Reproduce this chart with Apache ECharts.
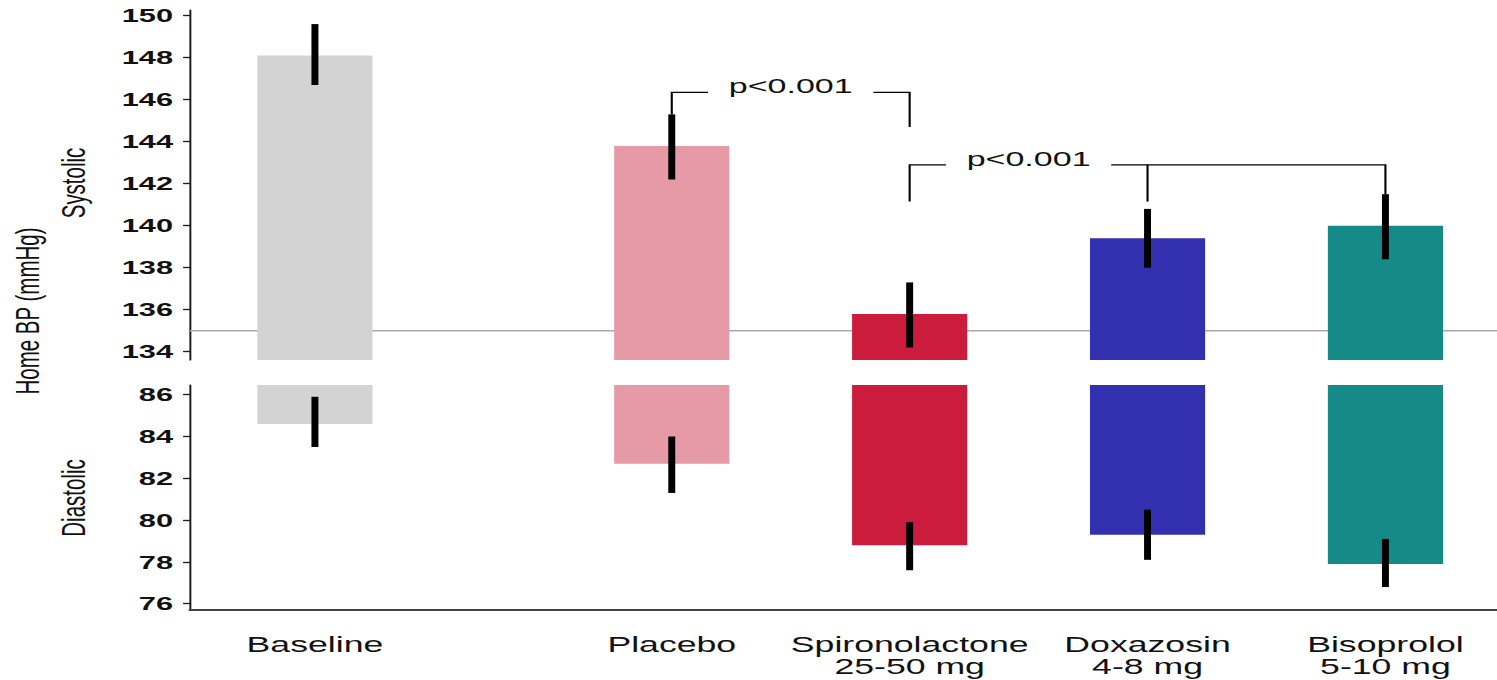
<!DOCTYPE html>
<html>
<head>
<meta charset="utf-8">
<script src="https://cdn.jsdelivr.net/npm/echarts@6/dist/echarts.min.js"></script>
<style>
  html, body { margin: 0; padding: 0; background: #fff; overflow: hidden; }
  #wrap { width: 1497px; height: 680px; overflow: hidden; }
  /* drawn narrow, then widened to the page width */
  #chart { width: 924px; height: 680px; transform: scaleX(1.62013); transform-origin: 0 0; }
</style>
</head>
<body>
<div id="wrap"><div id="chart"></div></div>
<script>
// Home blood pressure by treatment period: mean with 95% interval
const groups = ['Baseline', 'Placebo', 'Spironolactone\n25-50 mg', 'Doxazosin\n4-8 mg', 'Bisoprolol\n5-10 mg'];
const groupColors = ['#d3d3d3', '#e59aa6', '#cc1c3d', '#3330b0', '#158a86'];

const systolicMean = [148.1, 143.8, 135.8, 139.4, 140.0];
const systolicLow  = [146.7, 142.2, 134.2, 138.0, 138.4];
const systolicHigh = [149.6, 145.3, 137.3, 140.8, 141.5];

const diastolicMean = [84.6, 82.7, 78.8, 79.3, 77.9];
const diastolicLow  = [83.5, 81.3, 77.6, 78.1, 76.8];
const diastolicHigh = [85.9, 84.0, 79.9, 80.5, 79.1];

const systolicTicks  = [134, 136, 138, 140, 142, 144, 146, 148, 150];
const diastolicTicks = [76, 78, 80, 82, 84, 86];
const systolicTarget = 135;

// significance brackets: joined groups, bracket height, lower end of each leg
const bracketGroups = [[1, 2], [2, 3, 4]];
const bracketLevels = [146.35, 142.9];
const bracketLegEnds = [[145.3, 144.7], [141.15, 141.15, 141.5]];
const bracketLabels = ['p<0.001', 'p<0.001'];

// axis extents (a little padding beyond the outer ticks)
const SYS_MIN = 133.605, SYS_MAX = 150.271;
const DIA_MIN = 75.699, DIA_MAX = 86.464;
const X_MIN = -0.525, X_MAX = 4.969;
const BAR_HALF = 0.242;

// baseline sits a bit apart from the treatment periods
const slotOf = i => (i === 0 ? 0 : i + 0.5);
const slots = groups.map((g, i) => slotOf(i));

const FONT = '"Liberation Sans", Arial, Helvetica, sans-serif';

function rows(mean, low, high) {
  return groups.map((g, i) => [slotOf(i), mean[i], low[i], high[i]]);
}

function barRenderer(baseValue) {
  return function (params, api) {
    const slot = api.value(0);
    const mean = api.value(1);
    const lo = api.value(2);
    const hi = api.value(3);
    const pMean = api.coord([slot, mean]);
    const pBase = api.coord([slot, baseValue]);
    const xl = api.coord([slot - BAR_HALF, mean])[0];
    const xr = api.coord([slot + BAR_HALF, mean])[0];
    const yLo = api.coord([slot, lo])[1];
    const yHi = api.coord([slot, hi])[1];
    return {
      type: 'group',
      children: [
        {
          type: 'rect',
          shape: { x: xl, y: Math.min(pBase[1], pMean[1]), width: xr - xl, height: Math.abs(pBase[1] - pMean[1]) },
          style: { fill: groupColors[params.dataIndex] }
        },
        {
          type: 'line',
          shape: { x1: pMean[0], y1: yLo, x2: pMean[0], y2: yHi },
          style: { stroke: '#000', lineWidth: 4.3, lineCap: 'butt' }
        }
      ]
    };
  };
}

function targetRenderer(params, api) {
  const cs = params.coordSys;
  const y = api.coord([0, api.value(0)])[1];
  return {
    type: 'line',
    shape: { x1: cs.x, y1: y, x2: cs.x + cs.width, y2: y },
    style: { stroke: '#a9a9a9', lineWidth: 1.6 }
  };
}

const GAP_HALF = 51;
function bracketRenderer(params, api) {
  const k = api.value(0);
  const legs = bracketGroups[k];
  const ends = bracketLegEnds[k];
  const yL = api.coord([0, bracketLevels[k]])[1];
  const xs = legs.map(g => api.coord([slotOf(g), bracketLevels[k]])[0]);
  const yEnd = ends.map(v => api.coord([0, v])[1]);
  const xm = (xs[0] + xs[1]) / 2;
  const last = xs.length - 1;
  const lineStyle = { stroke: '#000', lineWidth: 1.3, fill: null };
  const children = [
    { type: 'polyline', shape: { points: [[xs[0], yEnd[0]], [xs[0], yL], [xm - GAP_HALF, yL]] }, style: lineStyle },
    { type: 'polyline', shape: { points: [[xm + GAP_HALF, yL], [xs[last], yL], [xs[last], yEnd[last]]] }, style: lineStyle },
    {
      type: 'text', x: xm, y: yL - 6.3,
      style: {
        text: bracketLabels[k], fill: '#111', font: '21px ' + FONT,
        align: 'center', verticalAlign: 'middle', textAlign: 'center', textVerticalAlign: 'middle'
      }
    }
  ];
  for (let j = 1; j < last; j++) {
    children.push({ type: 'line', shape: { x1: xs[j], y1: yL, x2: xs[j], y2: yEnd[j] }, style: lineStyle });
  }
  return { type: 'group', children };
}

const yAxisCommon = {
  type: 'value',
  splitLine: { show: false },
  axisLine: { show: true, onZero: false, lineStyle: { color: '#1a1a1a', width: 1.2 } },
  axisTick: { show: true, length: 4.3, lineStyle: { color: '#1a1a1a', width: 1.3 } },
  axisLabel: { margin: 10.5, fontFamily: FONT, fontWeight: 'bold', fontSize: 19, color: '#111' }
};

const titleText = (text, x, y) => ({
  type: 'text', x, y, rotation: Math.PI / 2,
  style: {
    text, fill: '#111', font: '20.5px ' + FONT,
    align: 'center', verticalAlign: 'middle', textAlign: 'center', textVerticalAlign: 'middle'
  }
});

const chart = echarts.init(document.getElementById('chart'), null, { renderer: 'svg' });
chart.setOption({
  animation: false,
  backgroundColor: '#fff',
  grid: [
    { left: 117.3, right: 0, top: 10, height: 350 },
    { left: 117.3, right: 0, top: 385, height: 225 }
  ],
  xAxis: [
    { type: 'value', gridIndex: 0, min: X_MIN, max: X_MAX, show: false },
    {
      type: 'value', gridIndex: 1, min: X_MIN, max: X_MAX,
      splitLine: { show: false },
      axisLine: { show: true, onZero: false, lineStyle: { color: '#444', width: 2 } },
      axisTick: { show: false },
      axisLabel: {
        customValues: slots,
        formatter: v => groups[slots.indexOf(v)] || '',
        margin: 23.5, fontFamily: FONT, fontSize: 22, lineHeight: 22, color: '#111', align: 'center'
      }
    }
  ],
  yAxis: [
    Object.assign({}, yAxisCommon, {
      gridIndex: 0, min: SYS_MIN, max: SYS_MAX,
      axisTick: Object.assign({}, yAxisCommon.axisTick, { customValues: systolicTicks }),
      axisLabel: Object.assign({}, yAxisCommon.axisLabel, { customValues: systolicTicks })
    }),
    Object.assign({}, yAxisCommon, {
      gridIndex: 1, min: DIA_MIN, max: DIA_MAX,
      axisTick: Object.assign({}, yAxisCommon.axisTick, { customValues: diastolicTicks }),
      axisLabel: Object.assign({}, yAxisCommon.axisLabel, { customValues: diastolicTicks })
    })
  ],
  graphic: [
    titleText('Home BP (mmHg)', 17.3, 311),
    titleText('Systolic', 45.4, 183),
    titleText('Diastolic', 45.4, 498)
  ],
  series: [
    {
      name: 'target', type: 'custom', xAxisIndex: 0, yAxisIndex: 0, z: 1, silent: true,
      renderItem: targetRenderer, data: [[systolicTarget]]
    },
    {
      name: 'Systolic', type: 'custom', xAxisIndex: 0, yAxisIndex: 0, z: 2, silent: true,
      renderItem: barRenderer(SYS_MIN), data: rows(systolicMean, systolicLow, systolicHigh)
    },
    {
      name: 'Diastolic', type: 'custom', xAxisIndex: 1, yAxisIndex: 1, z: 2, silent: true,
      renderItem: barRenderer(DIA_MAX), data: rows(diastolicMean, diastolicLow, diastolicHigh)
    },
    {
      name: 'brackets', type: 'custom', xAxisIndex: 0, yAxisIndex: 0, z: 3, silent: true, clip: false,
      renderItem: bracketRenderer, data: bracketGroups.map((g, k) => [k])
    }
  ]
});
</script>
</body>
</html>
